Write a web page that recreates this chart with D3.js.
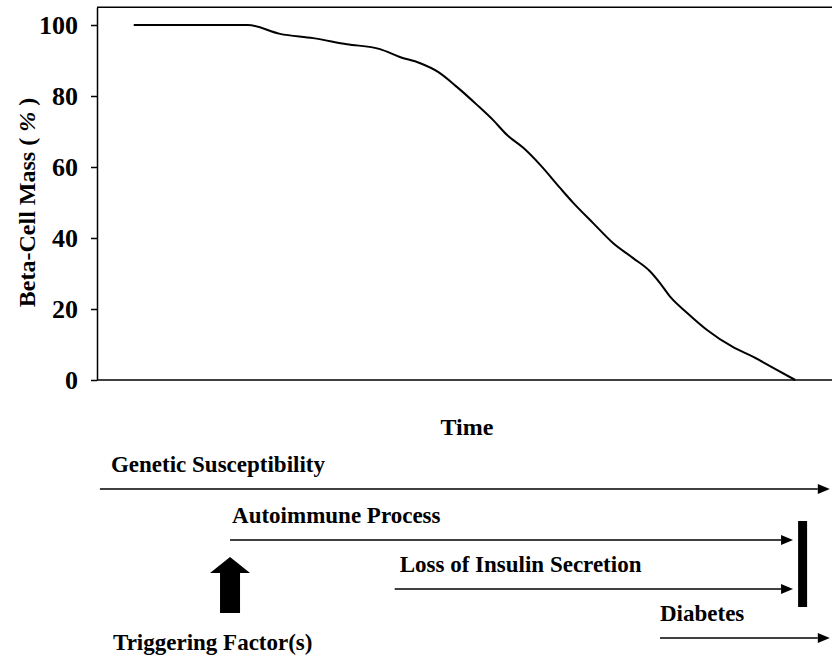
<!DOCTYPE html>
<html>
<head>
<meta charset="utf-8">
<script src="https://cdn.jsdelivr.net/npm/d3@7"></script>
<style>
  body { margin: 0; background: #fff; }
  svg { display: block; font-family: "Liberation Serif", "Times New Roman", serif; font-weight: bold; }
</style>
</head>
<body>
<svg id="chart"></svg>
<script>
// beta-cell mass (%) over time (arbitrary time units 0-100)
var timePoints = [5, 20.5, 24.9, 29.4, 34.0, 38.5, 41.2, 43.9, 46.4, 49.0, 51.7, 53.9, 55.8, 58.0, 60.3, 63.0, 64.8, 67.5, 70.2, 72.9, 75.2, 76.6, 78.0, 80.3, 83.0, 86.5, 89.3, 92.0, 95.0];
var massValues = [100, 100, 97.5, 96.3, 94.6, 93.2, 91.0, 89.3, 86.8, 82.5, 77.5, 73.2, 69.0, 65.4, 60.6, 54.1, 49.9, 44.2, 38.6, 34.4, 30.7, 27.3, 23.4, 18.9, 14.1, 9.3, 6.5, 3.4, 0];
var yTicks = [0, 20, 40, 60, 80, 100];

// phases along the time axis
var phaseNames = ["Genetic Susceptibility", "Autoimmune Process", "Loss of Insulin Secretion", "Diabetes"];
var phaseStart = [0.4, 18.1, 40.5, 76.6];
var phaseEnd = [99.7, 94.7, 94.7, 99.7];
var triggerLabel = "Triggering Factor(s)";
var triggerTime = 18.1;
var onsetTime = 96.0;

var width = 832, height = 656;
var margin = {top: 7.25, right: 0, bottom: 276, left: 97};

var svg = d3.select("#chart").attr("width", width).attr("height", height);

var x = d3.scaleLinear().domain([0, 100]).range([margin.left, width - margin.right]);
var y = d3.scaleLinear().domain([0, 105]).range([height - margin.bottom, margin.top]);

// y axis
var yAxis = svg.append("g")
    .attr("transform", `translate(${margin.left},0)`)
    .call(d3.axisLeft(y).tickValues(yTicks).tickSize(6).tickSizeOuter(0).tickPadding(13));
yAxis.selectAll("path, line").attr("stroke", "#000").attr("stroke-width", 1.5);
yAxis.selectAll("text")
    .attr("font-family", "Liberation Serif, serif")
    .attr("font-weight", "bold")
    .attr("font-size", 26)
    .attr("fill", "#000");

// bottom axis line and top frame
svg.append("line")
    .attr("x1", x(0)).attr("x2", x(100))
    .attr("y1", y(0)).attr("y2", y(0))
    .attr("stroke", "#000").attr("stroke-width", 1.5);
svg.append("line")
    .attr("x1", x(0)).attr("x2", x(100))
    .attr("y1", y(105)).attr("y2", y(105))
    .attr("stroke", "#000").attr("stroke-width", 1.5);

// curve
var line = d3.line()
    .x((d, i) => x(timePoints[i]))
    .y(d => y(d))
    .curve(d3.curveMonotoneX);

svg.append("path")
    .datum(massValues)
    .attr("fill", "none")
    .attr("stroke", "#000")
    .attr("stroke-width", 2)
    .attr("d", line);

// axis titles
svg.append("text")
    .attr("transform", `translate(27,${(y(0) + y(100)) / 2}) rotate(-90)`)
    .attr("text-anchor", "middle")
    .attr("dy", "0.35em")
    .attr("font-size", 24)
    .text("Beta-Cell Mass (")
    .call(t => t.append("tspan").attr("font-style", "italic").text(" %"))
    .call(t => t.append("tspan").text(" )"));

svg.append("text")
    .attr("x", 467)
    .attr("y", 435)
    .attr("text-anchor", "middle")
    .attr("font-size", 24)
    .text("Time");

// timeline arrows
var rowLine = [489, 540, 589, 638];
var labelOffset = [11, 2, 5, 0];
var head = 12, halfHead = 5;

var phases = svg.append("g").selectAll("g")
    .data(phaseNames)
    .join("g");

phases.append("line")
    .attr("x1", (d, i) => x(phaseStart[i]))
    .attr("x2", (d, i) => x(phaseEnd[i]) - head)
    .attr("y1", (d, i) => rowLine[i])
    .attr("y2", (d, i) => rowLine[i])
    .attr("stroke", "#000")
    .attr("stroke-width", 1.3);

phases.append("path")
    .attr("fill", "#000")
    .attr("d", (d, i) => {
        var xe = x(phaseEnd[i]), yr = rowLine[i];
        return `M${xe},${yr}L${xe - head},${yr - halfHead}L${xe - head},${yr + halfHead}Z`;
    });

phases.append("text")
    .attr("x", (d, i) => x(phaseStart[i]) + labelOffset[i])
    .attr("y", (d, i) => rowLine[i] - 17)
    .attr("font-size", 23)
    .text(d => d);

// onset bar
svg.append("rect")
    .attr("x", x(onsetTime) - 4.5)
    .attr("y", 521)
    .attr("width", 9)
    .attr("height", 86)
    .attr("fill", "#000");

// trigger arrow
var tx = x(triggerTime);
svg.append("path")
    .attr("fill", "#000")
    .attr("d", `M${tx},557L${tx + 20},573L${tx + 10},573L${tx + 10},613L${tx - 10},613L${tx - 10},573L${tx - 20},573Z`);

svg.append("text")
    .attr("x", 113)
    .attr("y", 650)
    .attr("font-size", 23)
    .text(triggerLabel);
</script>
</body>
</html>
